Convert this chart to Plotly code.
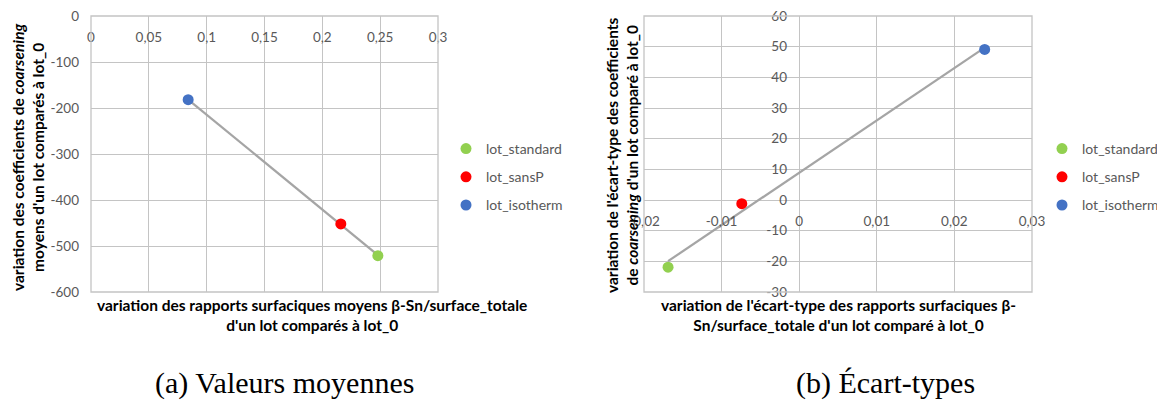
import numpy as np
import plotly.graph_objects as go

lots = ["lot_standard", "lot_sansP", "lot_isotherm"]
colors = ["#92d050", "#ff0000", "#4472c4"]

# (a) valeurs moyennes
moy_x = [0.248, 0.216, 0.084]
moy_y = [-521, -452, -182]

# (b) écart-types
ect_x = [-0.0169, -0.0074, 0.0239]
ect_y = [-21.9, -1.2, 49.1]

moy_xticks = [0, 0.05, 0.1, 0.15, 0.2, 0.25, 0.3]
moy_xtext = ["0", "0,05", "0,1", "0,15", "0,2", "0,25", "0,3"]
moy_yticks = [0, -100, -200, -300, -400, -500, -600]
moy_ytext = ["0", "-100", "-200", "-300", "-400", "-500", "-600"]

ect_xticks = [-0.02, -0.01, 0, 0.01, 0.02, 0.03]
ect_xtext = ["-0,02", "-0,01", "0", "0,01", "0,02", "0,03"]
ect_yticks = [-30, -20, -10, 0, 10, 20, 30, 40, 50, 60]
ect_ytext = ["-30", "-20", "-10", "0", "10", "20", "30", "40", "50", "60"]

# the page body has an 8px margin, so the figure is drawn 8px in from the window corner
OFF = 8
W, H = 1165 - OFF, 405 - OFF
GRID = "#c4c4c4"
TICK = "#595959"
FONT = "Lato"


def px(x):
    return (x - OFF) / W


def py(y):
    return (H - (y - OFF)) / H


def trend(xs, ys):
    # linear trendline (like Excel's), from min x to max x
    a, b = np.polyfit(xs, ys, 1)
    xe = np.array([min(xs), max(xs)])
    return xe, a * xe + b


fig = go.Figure()

tx, ty = trend(moy_x, moy_y)
fig.add_scatter(x=tx, y=ty, xaxis="x", yaxis="y", mode="lines",
                line=dict(color="#a5a5a5", width=2.25), showlegend=False, hoverinfo="skip")
tx, ty = trend(ect_x, ect_y)
fig.add_scatter(x=tx, y=ty, xaxis="x2", yaxis="y2", mode="lines",
                line=dict(color="#a5a5a5", width=2.25), showlegend=False, hoverinfo="skip")

for i in range(3):
    fig.add_scatter(x=[moy_x[i]], y=[moy_y[i]], xaxis="x", yaxis="y", mode="markers",
                    marker=dict(color=colors[i], size=11), name=lots[i],
                    legend="legend", legendgroup="a" + lots[i])
    fig.add_scatter(x=[ect_x[i]], y=[ect_y[i]], xaxis="x2", yaxis="y2", mode="markers",
                    marker=dict(color=colors[i], size=11), name=lots[i],
                    legend="legend2", legendgroup="b" + lots[i])

ydom = [py(292), py(16)]
tickfont = dict(family=FONT, size=13.5, color=TICK)
common = dict(showgrid=True, gridcolor=GRID, gridwidth=1.3, showline=False, automargin=False,
              zeroline=False, ticks="", tickfont=tickfont, fixedrange=True,
              ticklabeloverflow="allow")
zl = dict(zeroline=True, zerolinecolor=GRID, zerolinewidth=1.3)

fig.update_layout(
    width=W, height=H,
    margin=dict(l=0, r=0, t=0, b=0, autoexpand=False),
    paper_bgcolor="white", plot_bgcolor="white",
    font=dict(family=FONT),
    # x axis crosses at y=0, i.e. the top of the left plot
    xaxis=dict(domain=[px(91), px(438)], range=[0, 0.3], anchor="free", position=ydom[1],
               side="bottom", tickvals=moy_xticks, ticktext=moy_xtext,
               ticklabelstandoff=11, **common),
    yaxis=dict(domain=ydom, range=[-600, 0], anchor="x",
               tickvals=moy_yticks, ticktext=moy_ytext, ticklabelstandoff=11, **common),
    xaxis2=dict(domain=[px(644), px(1032)], range=[-0.02, 0.03], anchor="free",
                position=py(200), side="bottom",
                tickvals=ect_xticks, ticktext=ect_xtext, ticklabelstandoff=11,
                **{**common, **zl}),
    yaxis2=dict(domain=ydom, range=[-30, 60], anchor="free", position=px(799), side="left",
                tickvals=ect_yticks, ticktext=ect_ytext, ticklabelstandoff=12,
                **{**common, **zl}),
    legend=dict(x=px(446), y=py(177), xanchor="left", yanchor="middle",
                font=dict(family=FONT, size=14, color=TICK), itemwidth=30,
                tracegroupgap=7, bgcolor="rgba(0,0,0,0)"),
    legend2=dict(x=px(1042), y=py(177), xanchor="left", yanchor="middle",
                 font=dict(family=FONT, size=14, color=TICK), itemwidth=30,
                 tracegroupgap=7, bgcolor="rgba(0,0,0,0)"),
)

for xr, yr in [("x", "y"), ("x2", "y2")]:
    fig.add_shape(type="rect", xref=xr + " domain", yref=yr + " domain",
                  x0=0, x1=1, y0=0, y1=1, line=dict(color=GRID, width=1.3))

title_font = dict(family=FONT, size=15.5, color="black")
ann = dict(xref="paper", yref="paper", xanchor="center", yanchor="middle",
           showarrow=False, align="center")
fig.add_annotation(x=px(312), y=py(315), font=title_font,
                   text="<b>variation des rapports surfaciques moyens β-Sn/surface_totale<br>d'un lot comparés à lot_0</b>",
                   **ann)
fig.add_annotation(x=px(28), y=py(157), textangle=-90, font=title_font,
                   text="<b>variation des coefficients de <i>coarsening</i><br>moyens d'un lot comparés à lot_0</b>",
                   **ann)
fig.add_annotation(x=px(838), y=py(315), font=title_font,
                   text="<b>variation de l'écart-type des rapports surfaciques β-<br>Sn/surface_totale d'un lot comparé à lot_0</b>",
                   **ann)
fig.add_annotation(x=px(622), y=py(155), textangle=-90, font=title_font,
                   text="<b>variation de l'écart-type des coefficients<br>de <i>coarsening</i> d'un lot comparé à lot_0</b>",
                   **ann)

cap_font = dict(family="Liberation Serif", size=30, color="black")
fig.add_annotation(x=px(284), y=py(383), text="(a) Valeurs moyennes", font=cap_font, **ann)
fig.add_annotation(x=px(885), y=py(383), text="(b) Écart-types", font=cap_font, **ann)

fig.write_html("out.html")
